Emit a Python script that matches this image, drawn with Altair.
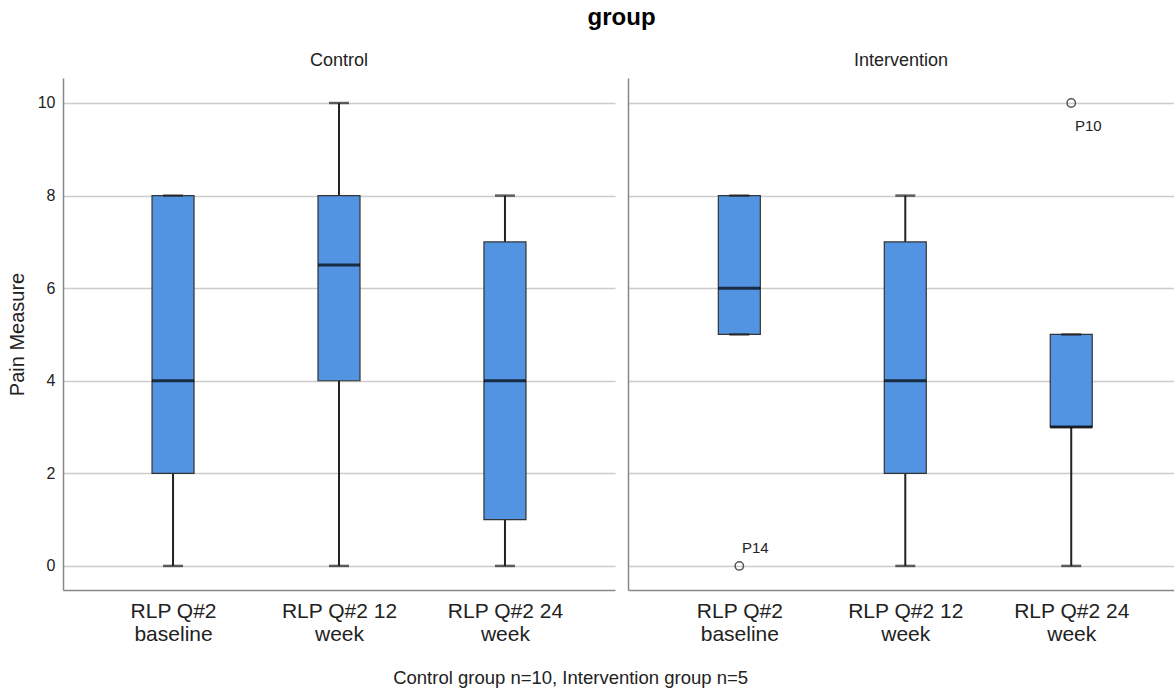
import altair as alt
import pandas as pd

# ---- data ----
times = ["RLP Q#2|baseline", "RLP Q#2 12|week", "RLP Q#2 24|week"]

control_lo = [0, 0, 0]
control_q1 = [2, 4, 1]
control_med = [4, 6.5, 4]
control_q3 = [8, 8, 7]
control_hi = [8, 10, 8]

interv_lo = [5, 0, 0]
interv_q1 = [5, 2, 3]
interv_med = [6, 4, 3]
interv_q3 = [8, 7, 5]
interv_hi = [8, 8, 5]

outlier_time = ["RLP Q#2|baseline", "RLP Q#2 24|week"]
outlier_value = [0, 10]
outlier_label = ["P14", "P10"]

y_ticks = [0, 2, 4, 6, 8, 10]
footer = "Control group n=10, Intervention group n=5"

FONT = "Liberation Sans"
BOX_FILL = "#5294E2"
LINE = "#222222"


def stats_df(lo, q1, med, q3, hi):
    return pd.DataFrame({"time": times, "lo": lo, "q1": q1, "med": med, "q3": q3, "hi": hi})


def panel(name, df, out_df, show_y, width, pad, align):
    x = alt.X(
        "time:N",
        sort=times,
        scale=alt.Scale(type="point", padding=pad, align=align),
        axis=alt.Axis(
            title=None,
            labelExpr="split(datum.label, '|')",
            labelAngle=0,
            ticks=False,
            labelFontSize=21,
            labelLineHeight=23,
            labelPadding=10,
            labelColor="#222",
            domainColor="#888",
            domainWidth=1.5,
            grid=False,
        ),
    )
    yscale = alt.Scale(domain=[-0.52, 10.54], nice=False, zero=False)
    if show_y:
        yaxis = alt.Axis(
            values=y_ticks,
            title="Pain Measure",
            titleFontSize=20,
            titleFontWeight="normal",
            titleColor="#222",
            titlePadding=10,
            labelFontSize=16,
            labelColor="#222",
            labelPadding=8,
            ticks=False,
            grid=True,
            gridColor="#cccccc",
            gridWidth=1.5,
            domainColor="#888",
            domainWidth=1.5,
        )
    else:
        yaxis = alt.Axis(
            values=y_ticks,
            title=None,
            labels=False,
            ticks=False,
            grid=True,
            gridColor="#cccccc",
            gridWidth=1.5,
            domainColor="#888",
            domainWidth=1.5,
        )

    base = alt.Chart(df)
    whisker = base.mark_rule(color=LINE, strokeWidth=2).encode(
        x=x, y=alt.Y("lo:Q", scale=yscale, axis=yaxis), y2="hi:Q"
    )
    box = base.mark_bar(size=42, color=BOX_FILL, stroke="#333", strokeWidth=1.2).encode(
        x=x, y=alt.Y("q1:Q", scale=yscale), y2="q3:Q"
    )
    cap_lo = base.mark_tick(size=20, thickness=2.5, color=LINE).encode(x=x, y=alt.Y("lo:Q", scale=yscale))
    cap_hi = base.mark_tick(size=20, thickness=2.5, color=LINE).encode(x=x, y=alt.Y("hi:Q", scale=yscale))
    median = base.mark_tick(size=42, thickness=3, color="black").encode(x=x, y=alt.Y("med:Q", scale=yscale))
    layers = [whisker, box, cap_lo, cap_hi, median]

    if out_df is not None:
        ob = alt.Chart(out_df)
        pts = ob.mark_point(shape="circle", filled=False, size=70, color="#555", strokeWidth=1.5, opacity=1).encode(
            x=x, y=alt.Y("value:Q", scale=yscale)
        )
        lab_low = ob.transform_filter("datum.label == 'P14'").mark_text(
            dx=16, dy=-18, fontSize=15, font=FONT, color="#222"
        ).encode(x=x, y=alt.Y("value:Q", scale=yscale), text="label:N")
        lab_high = ob.transform_filter("datum.label == 'P10'").mark_text(
            dx=17, dy=23, fontSize=15, font=FONT, color="#222"
        ).encode(x=x, y=alt.Y("value:Q", scale=yscale), text="label:N")
        layers += [pts, lab_low, lab_high]

    return alt.layer(*layers).properties(
        width=width,
        height=512,
        title=alt.TitleParams(name, fontSize=18, fontWeight="normal", color="#222", offset=8, anchor="middle"),
    )


control_df = stats_df(control_lo, control_q1, control_med, control_q3, control_hi)
interv_df = stats_df(interv_lo, interv_q1, interv_med, interv_q3, interv_hi)
out_df = pd.DataFrame({"time": outlier_time, "value": outlier_value, "label": outlier_label})

inner = alt.hconcat(
    panel("Control", control_df, None, True, 552, 0.663, 0.5),
    panel("Intervention", interv_df, out_df, False, 546, 0.645, 0.52),
    spacing=13,
).properties(
    title=alt.TitleParams("group", fontSize=24, fontWeight="bold", color="black", offset=22, anchor="middle", dx=31)
)

chart = alt.vconcat(inner).properties(
    title=alt.TitleParams(footer, orient="bottom", fontSize=18.5, fontWeight="normal", color="#222", offset=25, anchor="middle", dx=-20),
    padding={"left": 7, "top": 6, "right": 0, "bottom": 5},
).configure(font=FONT, background="white").configure_view(stroke=None)

chart.save("out.html", embed_options={"renderer": "svg", "actions": False})
